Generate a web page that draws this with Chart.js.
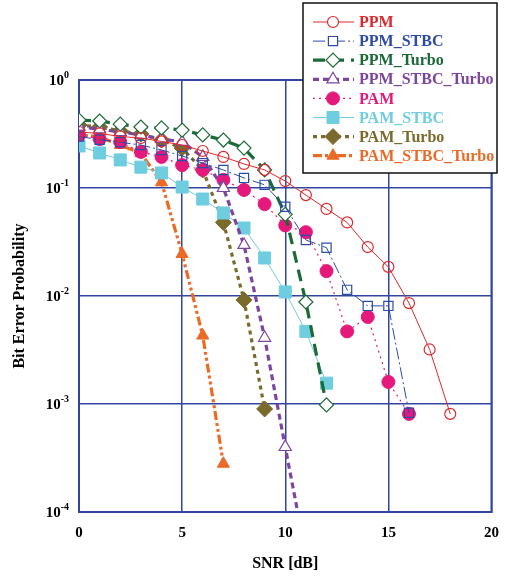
<!DOCTYPE html>
<html>
<head>
<meta charset="utf-8">
<script src="https://cdn.jsdelivr.net/npm/chart.js@4/dist/chart.umd.min.js"></script>
<style>
html,body{margin:0;padding:0;background:#fff;}
canvas{display:block;}
</style>
</head>
<body>
<canvas id="c" width="511" height="578"></canvas>
<script>
// ---- data ----
const snr = [0,1,2,3,4,5,6,7,8,9,10,11,12,13,14,15,16,17,18];
const seriesNames = ['PPM','PPM_STBC','PPM_Turbo','PPM_STBC_Turbo','PAM','PAM_STBC','PAM_Turbo','PAM_STBC_Turbo'];
const ppm          = [0.33,0.32,0.30,0.29,0.27,0.25,0.22,0.194,0.167,0.147,0.116,0.086,0.064,0.048,0.0284,0.0186,0.0086,0.0032,0.00081];
const ppmStbc      = [0.30,0.28,0.265,0.25,0.225,0.198,0.170,0.147,0.124,0.107,0.067,0.033,0.028,0.0114,0.0081,0.0081,0.00083];
const ppmTurbo     = [0.426,0.417,0.39,0.367,0.36,0.344,0.31,0.278,0.234,0.147,0.057,0.0088,0.00098];
const ppmStbcTurbo = [0.37,0.35,0.33,0.31,0.285,0.267,0.194,0.1,0.0297,0.0041,0.0004,0.00004];
const pam          = [0.31,0.284,0.267,0.216,0.194,0.163,0.147,0.119,0.096,0.071,0.045,0.039,0.017,0.0047,0.0064,0.0016,0.00081];
const pamStbc      = [0.245,0.211,0.182,0.156,0.138,0.102,0.079,0.0587,0.0426,0.0225,0.0109,0.0047,0.00156];
const pamTurbo     = [0.383,0.367,0.337,0.316,0.278,0.234,0.147,0.048,0.0092,0.0009];
const pamStbcTurbo = [0.31,0.297,0.25,0.21,0.113,0.0245,0.0043,0.00028];
const xTicks = [0,5,10,15,20];
const yTicks = [1,0.1,0.01,0.001,0.0001];
const yTickExps = ['0','-1','-2','-3','-4'];

// ---- styling ----
const FONT = '"Liberation Serif","Times New Roman",serif';
const GRID = 'rgb(50,70,160)';
const pts = (vals) => vals.map((v,i) => ({x: snr[i], y: v}));

const styles = [
  {c:'#e0282c', w:1,   dash:[],            ps:'circle',   r:5.5, fill:'rgba(0,0,0,0)', pbw:1.2},
  {c:'#2c4ca6', w:1,   dash:[12,3,2,3],    ps:'rect',     r:6.5, fill:'rgba(0,0,0,0)', pbw:1.2},
  {c:'#1b6a38', w:3.2, dash:[12,7],        ps:'rectRot',  r:7,   fill:'#ffffff',       pbw:1.2},
  {c:'#7d45a0', w:3.2, dash:[6,4],         ps:'triangle', r:7,   fill:'#ffffff',       pbw:1.2},
  {c:'#e4197b', w:1.2, dash:[2,4],         ps:'circle',   r:6.5, fill:'#e4197b',       pbw:1},
  {c:'#6fcde0', w:1,   dash:[],            ps:'rect',     r:8.5, fill:'#6fcde0',       pbw:1},
  {c:'#7a6a2c', w:3.2, dash:[4,4],         ps:'rectRot',  r:8,   fill:'#7a6a2c',       pbw:1},
  {c:'#ea6a26', w:3.2, dash:[9,3,3,3,3,3], ps:'triangle', r:7,   fill:'#ea6a26',       pbw:1}
];
const values = [ppm, ppmStbc, ppmTurbo, ppmStbcTurbo, pam, pamStbc, pamTurbo, pamStbcTurbo];

const datasets = values.map((v,i) => {
  const s = styles[i];
  return {
    label: seriesNames[i],
    data: pts(v),
    borderColor: s.c,
    borderWidth: s.w,
    borderDash: s.dash,
    pointStyle: s.ps,
    pointRadius: s.r,
    pointBackgroundColor: s.fill,
    pointBorderColor: s.c,
    pointBorderWidth: s.pbw,
    tension: 0,
    fill: false
  };
});

const framePlugin = {
  id: 'frame',
  beforeDatasetsDraw(chart) {
    const {ctx, chartArea: a} = chart;
    ctx.save();
    ctx.strokeStyle = GRID;
    ctx.lineWidth = 2;
    ctx.strokeRect(a.left, a.top, a.right - a.left, a.bottom - a.top);
    ctx.restore();
  }
};

const yLabelPlugin = {
  id: 'ylabels',
  afterDraw(chart) {
    const ctx = chart.ctx;
    const ys = chart.scales.y;
    ctx.save();
    ctx.fillStyle = '#000';
    ctx.textBaseline = 'middle';
    yTicks.forEach((v, i) => {
      const py = ys.getPixelForValue(v);
      ctx.font = 'bold 10px ' + FONT;
      const ws = ctx.measureText(yTickExps[i]).width;
      ctx.font = 'bold 15px ' + FONT;
      const wb = ctx.measureText('10').width;
      const right = 69;
      ctx.textAlign = 'left';
      ctx.fillText('10', right - ws - wb, py + 1);
      ctx.font = 'bold 10px ' + FONT;
      ctx.fillText(yTickExps[i], right - ws, py - 5);
    });
    ctx.restore();
  }
};

const legendPlugin = {
  id: 'boxLegend',
  afterDraw(chart) {
    const ctx = chart.ctx;
    ctx.save();
    const x0 = 303, y0 = 3, w = 194, h = 170;
    ctx.fillStyle = '#fff';
    ctx.fillRect(x0, y0, w, h);
    ctx.strokeStyle = '#111';
    ctx.lineWidth = 1.5;
    ctx.strokeRect(x0, y0, w, h);
    chart.data.datasets.forEach((ds, i) => {
      const y = 22 + i * 19.1;
      ctx.strokeStyle = ds.borderColor;
      ctx.lineWidth = ds.borderWidth;
      ctx.setLineDash(ds.borderDash || []);
      ctx.beginPath();
      ctx.moveTo(313, y);
      ctx.lineTo(354, y);
      ctx.stroke();
      ctx.setLineDash([]);
      ctx.fillStyle = ds.pointBackgroundColor === 'rgba(0,0,0,0)' ? '#fff' : ds.pointBackgroundColor;
      ctx.strokeStyle = ds.pointBorderColor;
      ctx.lineWidth = ds.pointBorderWidth;
      Chart.helpers.drawPoint(ctx, {pointStyle: ds.pointStyle, radius: ds.pointRadius, borderWidth: ds.pointBorderWidth, rotation: 0}, 333, y);
      ctx.fillStyle = ds.borderColor;
      ctx.font = 'bold 16px ' + FONT;
      ctx.textAlign = 'left';
      ctx.textBaseline = 'middle';
      ctx.fillText(ds.label, 359, y + 1);
    });
    ctx.restore();
  }
};

new Chart(document.getElementById('c'), {
  type: 'line',
  data: { datasets },
  options: {
    responsive: false,
    animation: false,
    layout: { padding: { left: 0, right: 13, top: 80, bottom: 0 } },
    plugins: { legend: { display: false }, tooltip: { enabled: false } },
    scales: {
      x: {
        type: 'linear', min: 0, max: 20,
        afterFit(s) { s.height = 66; },
        afterBuildTicks(s) { s.ticks = xTicks.map(v => ({ value: v })); },
        ticks: { font: { family: FONT, size: 15, weight: 'bold' }, color: '#000', padding: 12, maxRotation: 0, callback: v => String(v) },
        grid: { color: GRID, lineWidth: 1.5, drawTicks: false },
        border: { color: GRID, width: 2 },
        title: { display: true, text: 'SNR [dB]', font: { family: FONT, size: 16, weight: 'bold' }, color: '#000', padding: { top: 0, bottom: 5 } }
      },
      y: {
        type: 'logarithmic', min: 0.0001, max: 1,
        afterFit(s) { s.width = 79; },
        afterBuildTicks(s) { s.ticks = yTicks.map(v => ({ value: v })); },
        ticks: { display: false },
        grid: { color: GRID, lineWidth: 1.5, drawTicks: false },
        border: { color: GRID, width: 2 },
        title: { display: true, text: 'Bit Error Probability', font: { family: FONT, size: 16, weight: 'bold' }, color: '#000', padding: { top: 10, bottom: 0 } }
      }
    }
  },
  plugins: [framePlugin, yLabelPlugin, legendPlugin]
});
</script>
</body>
</html>
